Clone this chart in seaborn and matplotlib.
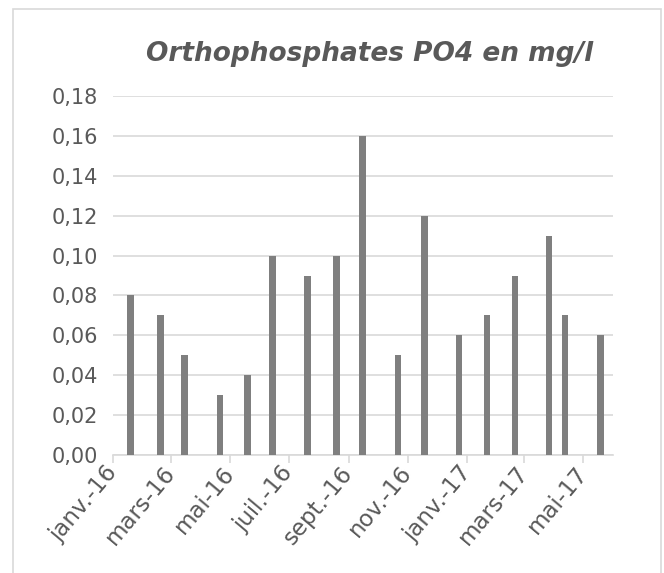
import pandas as pd
import numpy as np
import matplotlib
matplotlib.use('Agg')
import matplotlib.pyplot as plt
import matplotlib.dates as mdates
import seaborn as sns

# ── data ──
sample_dates = ['2016-01-19', '2016-02-19', '2016-03-15', '2016-04-21', '2016-05-19',
                '2016-06-14', '2016-07-20', '2016-08-19', '2016-09-15', '2016-10-22',
                '2016-11-18', '2016-12-24', '2017-01-22', '2017-02-20', '2017-03-27',
                '2017-04-12', '2017-05-19']
po4_values = [0.08, 0.07, 0.05, 0.03, 0.04, 0.10, 0.09, 0.10, 0.16, 0.05,
              0.12, 0.06, 0.07, 0.09, 0.11, 0.07, 0.06]
tick_dates = ['2016-01-01', '2016-03-01', '2016-05-01', '2016-07-01', '2016-09-01',
              '2016-11-01', '2017-01-01', '2017-03-01', '2017-05-01']
tick_labels = ['janv.-16', 'mars-16', 'mai-16', 'juil.-16', 'sept.-16',
               'nov.-16', 'janv.-17', 'mars-17', 'mai-17']
y_ticks = [0.00, 0.02, 0.04, 0.06, 0.08, 0.10, 0.12, 0.14, 0.16, 0.18]

TXT = '#595959'
GRID = '#d9d9d9'

df = pd.DataFrame({'date': mdates.date2num(pd.to_datetime(sample_dates)),
                   'po4': po4_values})

sns.set_theme(style='white')
plt.rcParams['font.family'] = ['DejaVu Sans']

fig = plt.figure(figsize=(6.64, 5.73), dpi=100)
ax = fig.add_axes([113/664, 1 - 455/573, 500/664, 359/573])

# bar width ~6 px; native_scale uses smallest gap between dates (16 days) as unit
min_gap = np.min(np.diff(df['date']))
sns.barplot(data=df, x='date', y='po4', native_scale=True, width=6.5/min_gap,
            color='#7f7f7f', saturation=1, linewidth=0, ax=ax, zorder=3)

ax.set_xlim(mdates.date2num(pd.Timestamp('2016-01-01')),
            mdates.date2num(pd.Timestamp('2017-06-01')))
ax.set_ylim(0, 0.18)
ax.set_yticks(y_ticks)
ax.set_yticklabels([f'{v:.2f}'.replace('.', ',') for v in y_ticks])
ax.set_xticks(mdates.date2num(pd.to_datetime(tick_dates)))
ax.set_xticklabels(tick_labels, rotation=50, ha='right', va='center',
                   rotation_mode='anchor')
ax.set_xlabel('')
ax.set_ylabel('')

ax.yaxis.grid(True, color=GRID, lw=1.2, zorder=0)
ax.set_axisbelow(True)
for s in ['top', 'right', 'left']:
    ax.spines[s].set_visible(False)
ax.spines['bottom'].set_color(GRID)
ax.spines['bottom'].set_linewidth(1.2)
ax.tick_params(axis='x', which='major', direction='out', length=6, width=1.2,
               color=GRID, labelsize=16.5, labelcolor=TXT, pad=4, bottom=True)
ax.tick_params(axis='y', length=0, labelsize=15, labelcolor=TXT, pad=11)

fig.text(370/664, 1 - 54/573, 'Orthophosphates PO4 en mg/l', ha='center', va='center',
         fontsize=19, fontweight='bold', fontstyle='italic', color=TXT)

# chart area border
fig.patches.append(plt.Rectangle((13/664, -0.01), 648/664, 1 - 9/573 + 0.01,
                                 transform=fig.transFigure, fill=False,
                                 edgecolor=GRID, lw=1.2))

fig.savefig('out.png', dpi=100, facecolor='white')
